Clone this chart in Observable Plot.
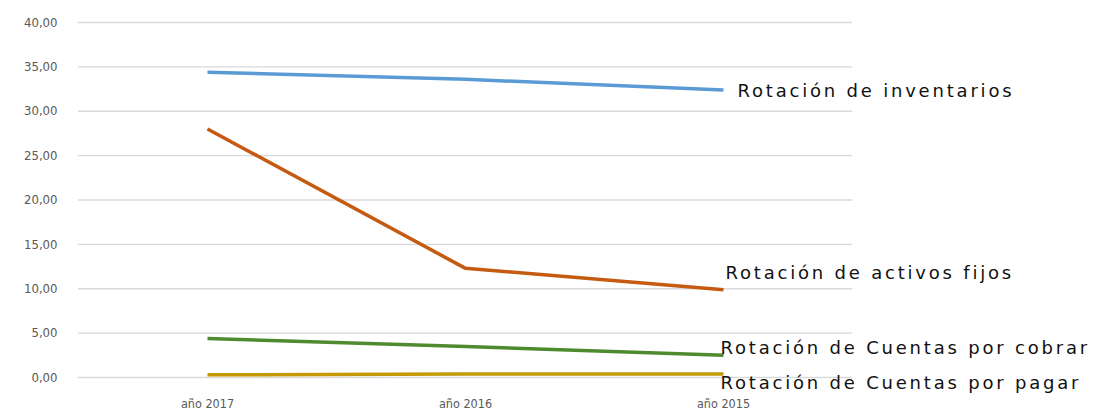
<!DOCTYPE html>
<html>
<head>
<meta charset="utf-8">
<script src="https://cdn.jsdelivr.net/npm/d3@7"></script>
<script src="https://cdn.jsdelivr.net/npm/@observablehq/plot@0.6"></script>
<style>
  html, body { margin: 0; padding: 0; background: #fff; }
  #chart svg { display: block; }
</style>
</head>
<body>
<div id="chart"></div>
<script>
const years = ["año 2017", "año 2016", "año 2015"];
const seriesNames = [
  "Rotación de inventarios",
  "Rotación de activos fijos",
  "Rotación de Cuentas por cobrar",
  "Rotación de Cuentas por pagar"
];
const inventarios = [34.4, 33.6, 32.4];
const activosFijos = [28.0, 12.3, 9.9];
const cuentasCobrar = [4.4, 3.5, 2.5];
const cuentasPagar = [0.3, 0.4, 0.4];
const seriesColors = ["#5B9BD5", "#C55A11", "#4F8A2F", "#C49A00"];
const yTicks = [0, 5, 10, 15, 20, 25, 30, 35, 40];

const seriesValues = [inventarios, activosFijos, cuentasCobrar, cuentasPagar];
const data = [];
seriesNames.forEach((name, i) => {
  years.forEach((yr, j) => data.push({series: name, year: yr, value: seriesValues[i][j]}));
});
const lastPoints = seriesNames.map((name, i) => ({series: name, year: years[years.length - 1], value: seriesValues[i][years.length - 1]}));
const labelDx = [14, 2, -3, -3];
const labelDy = [1, -16, -7, 9];

const fmt = d => d.toFixed(2).replace(".", ",");

const chart = Plot.plot({
  width: 1102,
  height: 413,
  marginLeft: 78,
  marginRight: 250,
  marginTop: 22,
  marginBottom: 36,
  style: {fontFamily: "'Liberation Sans Narrow', 'DejaVu Sans Condensed', 'Liberation Sans', sans-serif", background: "#fff"},
  x: {type: "point", domain: years, padding: 0.5, label: null},
  y: {domain: [0, 40], ticks: yTicks, label: null},
  color: {domain: seriesNames, range: seriesColors},
  marks: [
    Plot.gridY(yTicks, {stroke: "#d9d9d9", strokeOpacity: 1, strokeWidth: 1.3}),
    Plot.axisY(yTicks, {tickSize: 0, tickPadding: 21, tickFormat: fmt, fontSize: 13, fill: "#595959", label: null}),
    Plot.axisX({tickSize: 0, tickPadding: 22, fontSize: 12.5, fill: "#595959", label: null}),
    Plot.line(data, {x: "year", y: "value", z: "series", stroke: "series", strokeWidth: 3.5, strokeLinecap: "butt"}),
    ...lastPoints.map((p, i) => Plot.text([p], {
      x: "year", y: "value", text: "series", textAnchor: "start",
      dx: labelDx[i], dy: labelDy[i], fontSize: 18, fill: "#111",
      fontFamily: "'DejaVu Sans', Verdana, sans-serif"
    }))
  ]
});
d3.select(chart).selectAll("g[aria-label='text'] text").style("letter-spacing", "2.8px");
document.getElementById("chart").appendChild(chart);
</script>
</body>
</html>
